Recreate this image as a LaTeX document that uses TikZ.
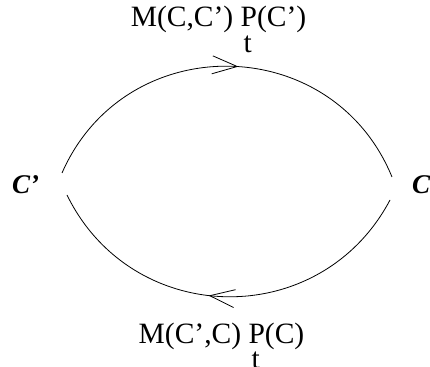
\documentclass[tikz,border=0pt]{standalone}
\usepackage{fontspec}
\setmainfont{Liberation Serif}
\usetikzlibrary{arrows.meta,decorations.markings}
\tikzset{
  arc/.style={line width=0.8pt},
  lbl/.style={font=\fontsize{29.5}{32}\selectfont, inner sep=0pt, anchor=base},
  state/.style={font=\fontsize{27}{30}\selectfont\bfseries\itshape, inner sep=0pt, anchor=base west},
  midarrow/.style={postaction={decorate},decoration={markings,
      mark=at position #1 with {\arrow[line width=0.8pt]{Straight Barb[length=25pt,width=18pt]}}}}
}
\newcommand{\Psub}{\makebox[0pt][l]{\hspace{3pt}\raisebox{-26pt}{t}}P}
\begin{document}
\begin{tikzpicture}[x=1pt,y=1pt]
\useasboundingbox (0,0) rectangle (430,366);
\node[state] (cp) at (12,172) {C’};
\node[state] (c) at (412,172) {C};
\coordinate (a1) at (62,193);
\coordinate (a2) at (392,189);
\coordinate (b1) at (390,166);
\coordinate (b2) at (67,171);
\draw[arc, midarrow=0.524] (a1) to[bend left=67, looseness=1.22] (a2);
\draw[arc, midarrow=0.546] (b1) to[bend left=63, looseness=1.175] (b2);
\node[lbl] (top) at (218.5,339) {M(C,C’) \Psub(C’)};
\node[lbl] (bot) at (221.5,23) {M(C’,C) \Psub(C)};
\end{tikzpicture}
\end{document}
